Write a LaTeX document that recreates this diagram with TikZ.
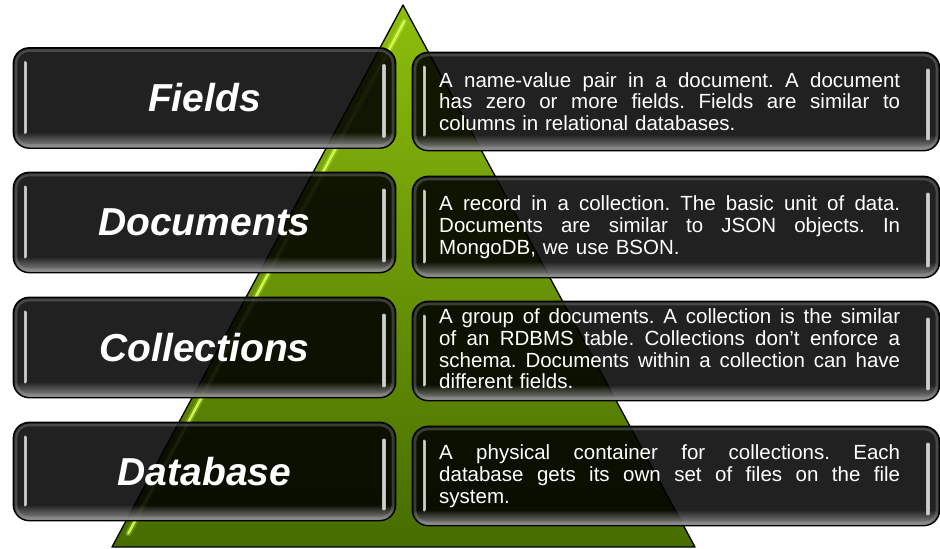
\documentclass[tikz,border=0pt]{standalone}
\usepackage{fontspec}
\setmainfont{Liberation Sans}
\usetikzlibrary{calc,fadings}
\definecolor{trtop}{HTML}{8DBE0C}
\definecolor{trbot}{HTML}{466C00}
\definecolor{stripecol}{HTML}{DAFF55}
\definecolor{barcol}{HTML}{D0D0C8}
\tikzfading[name=glowup, top color=transparent!100, bottom color=transparent!0]
\tikzset{
  glass/.style={rectangle, rounded corners=16pt, draw=black, line width=1.4pt,
    fill=black, fill opacity=0.87, inner sep=0pt},
  titletext/.style={text=white, font=\fontsize{39}{44}\selectfont\bfseries\itshape, inner sep=0pt},
  desctext/.style={text=white, font=\fontsize{20.5}{21.7}\selectfont\frenchspacing, text width=461pt,
    align=left, inner sep=0pt},
  barouter/.style={line width=3.6pt, line cap=round, draw=gray!55},
  barinner/.style={line width=1.6pt, line cap=round, draw=barcol},
  innerglow/.style={draw=gray!70, opacity=0.3, line width=3pt, rounded corners=13pt},
  tri/.style={draw=black, line width=1.3pt, line join=round},
}
\newcommand\glassdeco[1]{%
  \begin{scope}
    \clip[rounded corners=16pt] (#1.south west) rectangle (#1.north east);
    \fill[gray!85, path fading=glowup] ($(#1.south west)+(0,-16)$) rectangle (#1.south east);
  \end{scope}
  \draw[innerglow] ($(#1.south west)+(2.5,-2.5)$) rectangle ($(#1.north east)+(-2.5,2.5)$);
  \draw[black, line width=1.4pt, rounded corners=16pt] (#1.south west) rectangle (#1.north east);
  \draw[barouter] ($(#1.north west)+(12,15)$) -- ($(#1.south west)+(12,-16)$);
  \draw[barinner] ($(#1.north west)+(12,15)$) -- ($(#1.south west)+(12,-16)$);
  \draw[barouter] ($(#1.north east)+(-12,18)$) -- ($(#1.south east)+(-12,-12)$);
  \draw[barinner] ($(#1.north east)+(-12,18)$) -- ($(#1.south east)+(-12,-12)$);
}
\newcommand\jl[1]{\leavevmode\hbox to 461pt{\spaceskip=\fontdimen2\font plus 1fil\relax
  \xspaceskip=\spaceskip #1}}
\begin{document}
\begin{tikzpicture}[x=1pt,y=-1pt]
\useasboundingbox[fill=white] (0,0) rectangle (940,549);
% pyramid
\coordinate (apex) at (403,5);
\coordinate (bl) at (112,547);
\coordinate (br) at (695,547);
\shade[top color=trtop, bottom color=trbot] (apex) -- (bl) -- (br) -- cycle;
\draw[stripecol, line width=6pt, opacity=0.25, line cap=round]
  ($(apex)!0.03!(bl)+(10,0)$) -- ($(apex)!0.975!(bl)+(9,0)$);
\draw[stripecol, line width=2.4pt, opacity=0.9, line cap=round]
  ($(apex)!0.03!(bl)+(10,0)$) -- ($(apex)!0.975!(bl)+(9,0)$);
\draw[tri] (apex) -- (bl) -- (br) -- cycle;

% left boxes
\node[glass, minimum width=381pt, minimum height=99pt] (lf) at (204.5,98) {};
\node[glass, minimum width=381pt, minimum height=99pt] (ld) at (204.5,222.5) {};
\node[glass, minimum width=381pt, minimum height=99pt] (lc) at (204.5,347.5) {};
\node[glass, minimum width=381pt, minimum height=97pt] (lb) at (204.5,471.5) {};
% right boxes
\node[glass, minimum width=526pt, minimum height=97pt] (rf) at (676,101.5) {};
\node[glass, minimum width=526pt, minimum height=100pt] (rd) at (676,227) {};
\node[glass, minimum width=526pt, minimum height=98pt] (rc) at (676,351) {};
\node[glass, minimum width=526pt, minimum height=98pt] (rb) at (676,476) {};

\glassdeco{lf}\glassdeco{ld}\glassdeco{lc}\glassdeco{lb}
\glassdeco{rf}\glassdeco{rd}\glassdeco{rc}\glassdeco{rb}

% titles
\node[titletext] (tf) at (lf.center) {Fields};
\node[titletext] (td) at (ld.center) {Documents};
\node[titletext] (tc) at (lc.center) {Collections};
\node[titletext] (tb) at (lb.center) {Database};

% descriptions
\node[desctext, anchor=west] (df) at (439,101.5) {%
\jl{A name-value pair in a document. A document}\\
\jl{has zero or more fields. Fields are similar to}\\
columns in relational databases.};
\node[desctext, anchor=west] (dd) at (439,227) {%
\jl{A record in a collection. The basic unit of data.}\\
\jl{Documents are similar to JSON objects. In}\\
MongoDB, we use BSON.};
\node[desctext, anchor=west] (dc) at (439,349) {%
\jl{A group of documents. A collection is the similar}\\
\jl{of an RDBMS table. Collections don’t enforce a}\\
\jl{schema. Documents within a collection can have}\\
different fields.};
\node[desctext, anchor=west] (db) at (439,476) {%
\jl{A physical container for collections. Each}\\
\jl{database gets its own set of files on the file}\\
system.};
\end{tikzpicture}
\end{document}
